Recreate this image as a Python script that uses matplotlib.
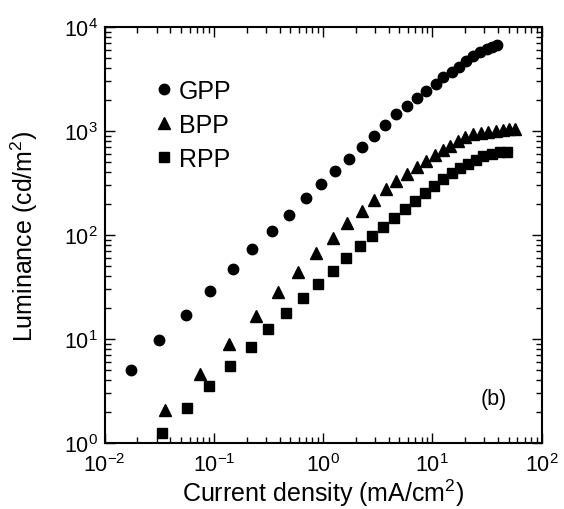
import numpy as np
import matplotlib
matplotlib.use("Agg")
import matplotlib.pyplot as plt

plt.rcParams['font.family'] = ['Liberation Sans', 'DejaVu Sans']
plt.rcParams['mathtext.fontset'] = 'custom'
plt.rcParams['mathtext.rm'] = 'Liberation Sans'
plt.rcParams['mathtext.it'] = 'Liberation Sans:italic'
plt.rcParams['mathtext.default'] = 'regular'

# GPP (circles)
gpp_j = [0.0174, 0.0316, 0.0557, 0.0929, 0.149, 0.226, 0.340, 0.492, 0.692, 0.955,
         1.29, 1.72, 2.26, 2.93, 3.67, 4.66, 5.83, 7.22, 8.83, 10.7,
         12.6, 15.1, 17.6, 20.5, 23.8, 27.4, 31.5, 34.8, 38.9]
gpp_l = [5.03, 9.68, 17.2, 29.1, 47.1, 74.1, 108.6, 157, 225, 307,
         408, 534, 702, 905, 1142, 1447, 1721, 2054, 2442, 2831,
         3305, 3690, 4150, 4710, 5260, 5750, 6140, 6420, 6760]

# BPP (triangles)
bpp_j = [0.0361, 0.0743, 0.138, 0.243, 0.387, 0.587, 0.867, 1.23, 1.67, 2.26,
         2.95, 3.77, 4.69, 5.91, 7.25, 8.77, 10.5, 12.4, 14.6, 17.1,
         20.1, 23.8, 27.9, 32.6, 37.9, 44.0, 50.4, 57.2]
bpp_l = [2.06, 4.59, 8.87, 16.5, 28.4, 44.4, 66.4, 94.2, 131, 172,
         217, 274, 333, 386, 448, 512, 588, 654, 722, 798,
         876, 936, 957, 978, 1000, 1023, 1034, 1045]

# RPP (squares)
rpp_j = [0.0338, 0.0565, 0.0906, 0.141, 0.219, 0.316, 0.458, 0.649, 0.906, 1.23,
         1.63, 2.16, 2.83, 3.56, 4.50, 5.63, 6.95, 8.59, 10.4, 12.5,
         15.1, 17.9, 21.1, 25.0, 29.3, 35.0, 41.7, 48.0]
rpp_l = [1.24, 2.16, 3.51, 5.46, 8.38, 12.5, 17.9, 24.7, 34.0, 45.4,
         60.4, 78.0, 97.8, 120, 146, 178, 214, 253, 298, 345,
         392, 438, 481, 530, 571, 601, 624, 632]

fig = plt.figure(figsize=(5.64, 5.10), dpi=100)
ax = fig.add_axes([0.1853, 0.1294, 0.775, 0.8157])

ax.plot(gpp_j, gpp_l, 'o', color='black', markersize=7.5, linestyle='none', label='GPP')
ax.plot(bpp_j, bpp_l, '^', color='black', markersize=8.5, linestyle='none', label='BPP')
ax.plot(rpp_j, rpp_l, 's', color='black', markersize=6.8, linestyle='none', label='RPP')

ax.set_xscale('log')
ax.set_yscale('log')
ax.set_xlim(1e-2, 1e2)
ax.set_ylim(1e0, 1e4)

for s in ax.spines.values():
    s.set_linewidth(1.5)
ax.tick_params(which='both', direction='in', top=True, right=True, labelsize=15.5, width=1)
ax.tick_params(which='major', length=7)
ax.tick_params(which='minor', length=4)
ax.tick_params(axis='x', pad=7)
ax.tick_params(axis='y', pad=5)

ax.set_xlabel('Current density (mA/cm$^2$)', fontsize=18, labelpad=1)
ax.set_ylabel('Luminance (cd/m$^2$)', fontsize=18, labelpad=17)

ax.legend(loc='upper left', bbox_to_anchor=(0.075, 0.905), frameon=False, fontsize=18,
          handletextpad=0.05, labelspacing=0.4, handlelength=1.1, borderpad=0)

ax.text(0.89, 0.108, '(b)', transform=ax.transAxes, fontsize=15.5, ha='center', va='center')

plt.savefig('out.png', dpi=100)
